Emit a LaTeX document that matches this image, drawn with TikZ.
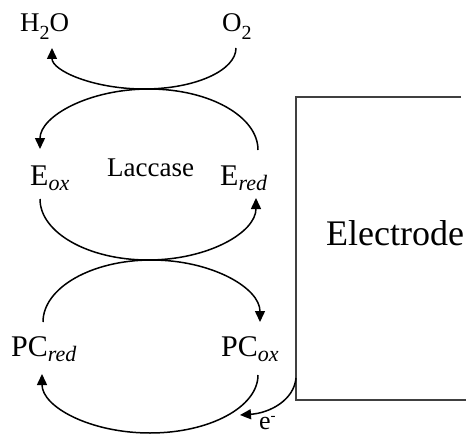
\documentclass[tikz,border=0pt]{standalone}
\usepackage{fontspec}
\setmainfont{Liberation Serif}
\usetikzlibrary{arrows.meta}
\newcommand\lsub[1]{\raisebox{-5pt}{\fontsize{22}{22}\selectfont\itshape #1}}
\newcommand\nsub[1]{\raisebox{-8pt}{\fontsize{20}{20}\selectfont #1}}
\begin{document}
\begin{tikzpicture}[x=1pt,y=-1pt,
  lbl/.style={inner sep=0pt,anchor=base west,font=\fontsize{30}{32}\selectfont},
  small/.style={lbl,font=\fontsize{27}{29}\selectfont},
  big/.style={lbl,font=\fontsize{36}{38}\selectfont},
  conn/.style={line width=1.5pt,-{Triangle[length=11pt,width=10pt]}},
  boxline/.style={line width=1.3pt,draw=black!75}]
\useasboundingbox (0,0) rectangle (466,436);
% labels
\node[small] (h2o) at (20,32) {H\nsub{2}O};
\node[small] (o2) at (222,32) {O\nsub{2}};
\node[lbl] (eox) at (30,185) {E\lsub{ox}};
\node[small] (lac) at (107,176) {Laccase};
\node[lbl] (ered) at (220,185) {E\lsub{red}};
\node[lbl] (pcred) at (11,356) {PC\lsub{red}};
\node[lbl] (pcox) at (221,356) {PC\lsub{ox}};
\node[big] (el) at (326,245) {Electrode};
\node[lbl,font=\fontsize{26}{28}\selectfont] (em) at (259,429) {e\raisebox{9pt}{\fontsize{15}{15}\selectfont -}};
% electrode box
\draw[boxline] (461,97) -- (296,97) -- (296,400) -- (466,400);
% connector ends
\coordinate (o2out) at (236,48);
\coordinate (h2oin) at (52,48);
\coordinate (eredup) at (258,150);
\coordinate (eoxin) at (40,149);
\coordinate (eoxdown) at (40,199);
\coordinate (eredin) at (256,198);
\coordinate (pcredup) at (43,322);
\coordinate (pcoxin) at (260,322);
\coordinate (pcoxdown) at (258,375);
\coordinate (pcredin) at (42,374);
\coordinate (elout) at (296,378);
\coordinate (elin) at (240,415);
% arcs
\draw[conn] (o2out) .. controls (236,70.6) and (194.8,89) .. (144,89)
  .. controls (93.2,89) and (52,70.6) .. (h2oin);
\draw[conn] (eredup) .. controls (258,116.3) and (209.2,89) .. (149,89)
  .. controls (88.8,89) and (40,116.3) .. (eoxin);
\draw[conn] (eoxdown) .. controls (40,232.7) and (88.4,260) .. (148,260)
  .. controls (207.6,260) and (256,232.7) .. (eredin);
\draw[conn] (pcredup) .. controls (43,287.8) and (91.6,260) .. (151.5,260)
  .. controls (211.4,260) and (260,287.8) .. (pcoxin);
\draw[conn] (pcoxdown) .. controls (258,407) and (209.6,433) .. (150,433)
  .. controls (90.4,433) and (42,407) .. (pcredin);
\draw[conn] (elout) .. controls (294,400) and (270,413) .. (elin);
\end{tikzpicture}
\end{document}
